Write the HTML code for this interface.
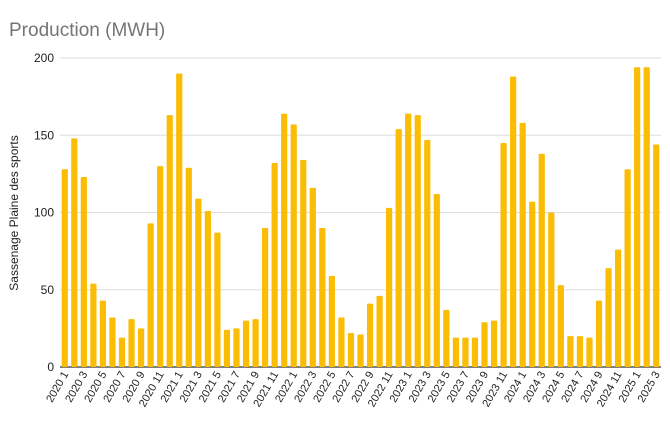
<!DOCTYPE html>
<html><head><meta charset="utf-8"><style>
body{margin:0;background:#fff;font-family:"Liberation Sans",sans-serif}
svg text{font-family:"Liberation Sans",sans-serif}
</style></head><body>
<svg id="c" width="670" height="430">
<text x="9" y="36" font-size="19" fill="#757575">Production (MWH)</text>
<text transform="translate(18,213) rotate(-90)" text-anchor="middle" font-size="12" fill="#222">Sassenage Plaine des sports</text>
<g id="grid"></g><g id="bars"></g><g id="xl"></g>
</svg>
<script>
const categories=[];
for(let y=2020;y<=2025;y++)for(let m=1;m<=12;m++){if(y===2025&&m>3)break;categories.push(y+" "+m);}
const values=[128,148,123,54,43,32,19,31,25,93,130,163,
190,129,109,101,87,24,25,30,31,90,132,164,
157,134,116,90,59,32,22,21,41,46,103,154,
164,163,147,112,37,19,19,19,29,30,145,188,
158,107,138,100,53,20,20,19,43,64,76,128,
194,194,144];
const yTicks=[0,50,100,150,200];
const ns="http://www.w3.org/2000/svg";
const x0=60,x1=661,yTop=58,yBot=367,yMax=200;
const y=v=>yBot-(v/yMax)*(yBot-yTop);
const step=(x1-x0)/categories.length;
const xc=i=>x0+step*(i+0.5);
const grid=document.getElementById('grid'),bars=document.getElementById('bars'),xl=document.getElementById('xl');
yTicks.forEach(t=>{
 const l=document.createElementNS(ns,'line');
 
 
 l.setAttribute('x1',x0);l.setAttribute('x2',x1);l.setAttribute('y1',y(t));l.setAttribute('y2',y(t));
 l.setAttribute('stroke',t===0?'#333':'#ddd');l.setAttribute('stroke-width',t===0?1.2:1);
 grid.appendChild(l);
 const tx=document.createElementNS(ns,'text');
 
 
 tx.setAttribute('x',54);tx.setAttribute('y',y(t)+4);tx.setAttribute('text-anchor','end');
 tx.setAttribute('font-size','12');tx.setAttribute('fill','#222');tx.textContent=t;
 grid.appendChild(tx);
});
values.forEach((v,i)=>{
 const r=document.createElementNS(ns,'rect');
 
 
 const w=6.2;
 r.setAttribute('x',xc(i)-w/2);r.setAttribute('width',w);
 r.setAttribute('y',y(v));r.setAttribute('height',yBot-y(v));
 r.setAttribute('fill','#fbbc04');r.setAttribute('rx','1');
 bars.appendChild(r);
 if(i%2===0){
  const t=document.createElementNS(ns,'text');
  
  
  t.setAttribute('transform','translate('+(xc(i)+4)+',374) rotate(-60)');
  t.setAttribute('text-anchor','end');t.setAttribute('font-size','11');t.setAttribute('fill','#222');
  t.textContent=categories[i];
  xl.appendChild(t);
 }
});
</script>
</body></html>
